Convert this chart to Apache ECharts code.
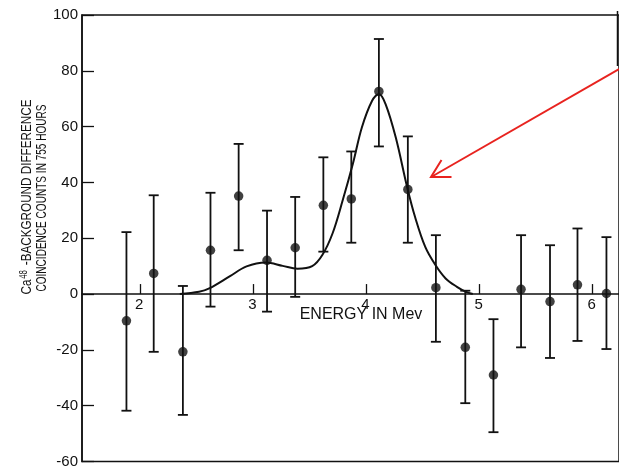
<!DOCTYPE html>
<html>
<head>
<meta charset="utf-8">
<script src="https://cdn.jsdelivr.net/npm/echarts@6/dist/echarts.min.js"></script>
<style>
html,body{margin:0;padding:0;background:#fff;}
#chart{width:619px;height:469px;}
</style>
</head>
<body>
<div id="chart"></div>
<script>
// Measured points (energy in MeV, counts)
var energy = [1.878, 2.119, 2.377, 2.621, 2.870, 3.121, 3.370, 3.619, 3.866, 4.110, 4.366, 4.614, 4.874, 5.123, 5.367, 5.623, 5.866, 6.122];
var counts = [-9.6, 7.4, -20.7, 15.7, 35.1, 12.1, 16.6, 31.8, 34.1, 72.6, 37.5, 2.3, -19.1, -29.0, 1.7, -2.7, 3.3, 0.2];
var errHigh = [22.2, 35.4, 2.9, 36.3, 53.8, 29.9, 34.8, 49.0, 51.1, 91.4, 56.5, 21.1, 1.2, -9.0, 21.1, 17.5, 23.5, 20.4];
var errLow = [-41.8, -20.7, -43.3, -4.5, 15.7, -6.3, -1.0, 15.2, 18.4, 52.9, 18.4, -17.1, -39.1, -49.5, -19.1, -22.9, -16.8, -19.7];

// Fitted curve
var curveE = [2.35, 2.52, 2.61, 2.79, 2.94, 3.11, 3.26, 3.39, 3.52, 3.61, 3.70, 3.79, 3.88, 3.96, 4.05, 4.11, 4.17, 4.26, 4.36, 4.43, 4.52, 4.61, 4.70, 4.80, 4.88, 4.94];
var curveV = [0, 0.8, 2.0, 6.3, 9.9, 11.3, 10.1, 9.1, 10.0, 14.0, 21.7, 33.6, 46.7, 59.8, 69.3, 71.7, 68.0, 56.0, 38.3, 27.6, 16.9, 10.4, 5.6, 2.6, 0.8, 0];

var xTicks = [2, 3, 4, 5, 6];

var xTitle = 'ENERGY IN Mev';
var yTitle1 = ['Ca', '48', ' -BACKGROUND DIFFERENCE'];
var yTitle2 = 'COINCIDENCE COUNTS IN 755 HOURS';

var FONT = '"Liberation Sans", Arial, Helvetica, sans-serif';
var INK = '#111111';

var points = energy.map(function (e, i) { return [e, counts[i]]; });
var errData = energy.map(function (e, i) { return [e, errLow[i], errHigh[i]]; });
var curve = curveE.map(function (e, i) { return [e, curveV[i]]; });

var staticGraphics = [
  {
    type: 'text', x: 361, y: 315,
    style: {text: xTitle, font: '16px ' + FONT, fill: INK, align: 'center', verticalAlign: 'middle'}
  },
  {
    type: 'text', x: 26.5, y: 197, rotation: Math.PI / 2, scaleX: 0.78,
    style: {
      text: '{a|' + yTitle1[0] + '}{s|' + yTitle1[1] + '}{a|' + yTitle1[2] + '}',
      align: 'center', verticalAlign: 'middle',
      rich: {
        a: {font: '15px ' + FONT, fill: INK, lineHeight: 15, verticalAlign: 'bottom'},
        s: {font: '10px ' + FONT, fill: INK, lineHeight: 15, verticalAlign: 'top', padding: [0, 2, 0, 1]}
      }
    }
  },
  {
    type: 'text', x: 42, y: 198, rotation: Math.PI / 2, scaleX: 0.67,
    style: {text: yTitle2, font: '15px ' + FONT, fill: INK, align: 'center', verticalAlign: 'middle'}
  },
  {
    type: 'line', shape: {x1: 617.5, y1: 11, x2: 617.5, y2: 66},
    style: {stroke: INK, lineWidth: 1.5}
  },
  {
    type: 'line', shape: {x1: 619, y1: 69, x2: 432, y2: 176.5},
    style: {stroke: '#e8231f', lineWidth: 2}
  },
  {
    type: 'polyline', shape: {points: [[441.5, 160], [431, 177], [451.5, 177]]},
    style: {stroke: '#e8231f', lineWidth: 2, fill: null}
  }
];

var chart = echarts.init(document.getElementById('chart'), null, {renderer: 'canvas'});
chart.setOption({
  animation: false,
  backgroundColor: '#fff',
  grid: {
    left: 82, right: -2, top: 15, bottom: 6,
    show: true, borderColor: INK, borderWidth: 1.5, backgroundColor: 'transparent'
  },
  xAxis: {
    type: 'value',
    min: 1.485, max: 6.233,
    axisLine: {onZero: true, lineStyle: {color: INK, width: 1.5}},
    axisTick: {show: true, inside: true, length: 10, customValues: xTicks, lineStyle: {color: INK, width: 1.3}},
    axisLabel: {show: false},
    splitLine: {show: false}
  },
  yAxis: {
    type: 'value',
    min: -60, max: 100, interval: 20,
    axisLine: {show: true, lineStyle: {color: INK, width: 1.5}},
    axisTick: {show: true, inside: true, length: 12, lineStyle: {color: INK, width: 1.3}},
    axisLabel: {color: INK, fontSize: 15, fontFamily: FONT, margin: 4},
    splitLine: {show: false}
  },
  graphic: staticGraphics,
  series: [
    {
      type: 'custom',
      name: 'error',
      data: errData,
      encode: {x: 0, y: [1, 2]},
      renderItem: function (params, api) {
        var x = api.value(0);
        var lo = api.coord([x, api.value(1)]);
        var hi = api.coord([x, api.value(2)]);
        var half = 5;
        var st = {stroke: INK, lineWidth: 1.8};
        return {
          type: 'group',
          children: [
            {type: 'line', shape: {x1: lo[0], y1: lo[1], x2: hi[0], y2: hi[1]}, style: st},
            {type: 'line', shape: {x1: lo[0] - half, y1: lo[1], x2: lo[0] + half, y2: lo[1]}, style: st},
            {type: 'line', shape: {x1: hi[0] - half, y1: hi[1], x2: hi[0] + half, y2: hi[1]}, style: st}
          ]
        };
      },
      z: 2
    },
    {
      type: 'line',
      name: 'fit',
      data: curve,
      smooth: 0.35,
      showSymbol: false,
      lineStyle: {color: INK, width: 2},
      z: 3
    },
    {
      type: 'scatter',
      name: 'data',
      data: points,
      symbol: 'circle',
      symbolSize: 9.5,
      itemStyle: {color: INK},
      z: 4
    }
  ]
});

// x tick labels placed under the zero line, positioned through the axis scale
var tickLabels = xTicks.map(function (v) {
  var p = chart.convertToPixel({gridIndex: 0}, [v, 0]);
  return {
    type: 'text', x: p[0] - 1, y: p[1] + 3,
    style: {text: String(v), font: '15px ' + FONT, fill: INK, align: 'center', verticalAlign: 'top'}
  };
});
chart.setOption({graphic: staticGraphics.concat(tickLabels)}, {replaceMerge: ['graphic']});
</script>
</body>
</html>
